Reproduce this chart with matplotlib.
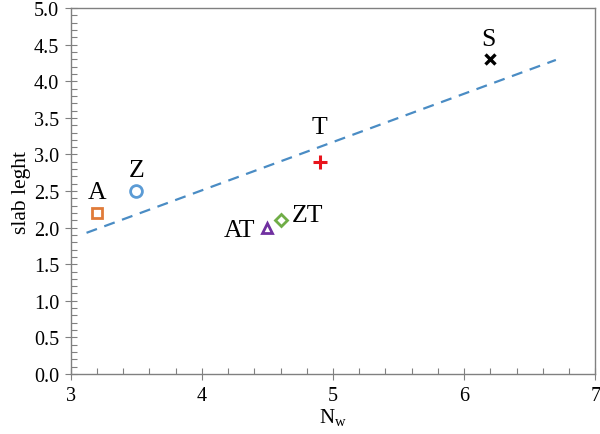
import numpy as np
from matplotlib import pyplot as plt
from matplotlib.ticker import MultipleLocator

plt.rcParams['font.family'] = ['Liberation Serif', 'DejaVu Serif']
plt.rcParams['mathtext.fontset'] = 'custom'
plt.rcParams['mathtext.rm'] = 'Liberation Serif'

names = ["A", "Z", "T", "S", "AT", "ZT"]
nw = [3.2, 3.5, 4.9, 6.2, 4.5, 4.6]
slab = [2.2, 2.5, 2.9, 4.3, 2.0, 2.1]

trend_slope = 0.66
trend_intercept = -0.13
trend_range = [3.12, 6.7]

styles = {
    "A": dict(marker="s", mec="#E07B39", mfc="none", ms=7.5, mew=2),
    "Z": dict(marker="o", mec="#5B9BD5", mfc="none", ms=8.5, mew=2),
    "T": dict(marker="+", mec="#E8141C", ms=9.5, mew=2.2),
    "S": dict(marker="x", mec="#000000", ms=7, mew=2.4),
    "AT": dict(marker="^", mec="#7030A0", mfc="none", ms=7.5, mew=2),
    "ZT": dict(marker="D", mec="#70AD47", mfc="none", ms=6, mew=2),
}
# label offsets in points (dx, dy) and alignment
label_pos = {
    "A": ((0, 7), "center", "bottom"),
    "Z": ((0, 7), "center", "bottom"),
    "T": ((0, 17), "center", "bottom"),
    "S": ((-1, 7), "center", "bottom"),
    "AT": ((-9, -2), "right", "center"),
    "ZT": ((8, 4), "left", "center"),
}

fig = plt.figure(figsize=(6, 4.35), dpi=100)
ax = fig.add_axes([0.118, 0.138, 0.874, 0.841])

tx = np.array(trend_range)
ax.plot(tx, trend_slope * tx + trend_intercept, linestyle=(0, (5, 3.5)),
        color="#4A8CC4", lw=1.6)

for n, x, y in zip(names, nw, slab):
    ax.plot([x], [y], linestyle="none", **styles[n])
    off, ha, va = label_pos[n]
    ax.annotate(n, (x, y), xytext=off, textcoords="offset points",
                ha=ha, va=va, fontsize=18.5)

ax.set_xlim(3, 7)
ax.set_ylim(0, 5)
ax.xaxis.set_major_locator(MultipleLocator(1))
ax.xaxis.set_minor_locator(MultipleLocator(0.2))
ax.yaxis.set_major_locator(MultipleLocator(0.5))
ax.yaxis.set_minor_locator(MultipleLocator(0.1))
ax.yaxis.set_major_formatter(lambda v, p: f"{v:.1f}")
ax.tick_params(which="major", direction="inout", length=9, width=0.8,
               color="#808080", labelsize=14.5, pad=4)
ax.tick_params(which="minor", direction="in", length=4, width=0.8,
               color="#808080")
for s in ax.spines.values():
    s.set_color("#808080")
    s.set_linewidth(1)

ax.set_xlabel(r"N$_\mathregular{w}$", fontsize=15, labelpad=1)
ax.set_ylabel("slab leght", fontsize=15.5, labelpad=2)

fig.savefig("out.png", dpi=100)
